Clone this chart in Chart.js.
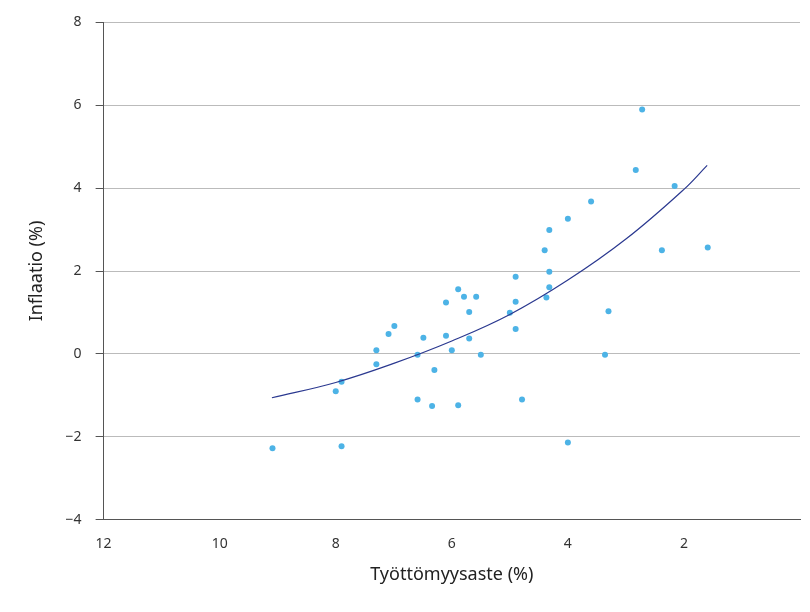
<!DOCTYPE html>
<html lang="fi">
<head>
<meta charset="UTF-8">
<title>Inflaatio ja työttömyys</title>
<style>body{margin:0;background:#fff}</style>
</head>
<body>
<canvas id="chart" width="810" height="612"></canvas>
<script src="https://cdn.jsdelivr.net/npm/chart.js"></script>
<script>
// havainnot: työttömyysaste (%) ja inflaatio (%)
const unemployment = [9.09, 8.0, 7.9, 7.9, 7.3, 7.3, 7.09, 6.99, 6.59, 6.59, 6.49, 6.34, 6.3, 6.1, 6.1, 6.0, 5.89, 5.89, 5.79, 5.7, 5.7, 5.58, 5.5, 5.0, 4.9, 4.9, 4.9, 4.79, 4.4, 4.32, 4.32, 4.32, 4.37, 4.0, 4.0, 3.6, 3.36, 3.3, 2.83, 2.72, 2.38, 2.16, 1.59];
const inflation = [-2.28, -0.9, -0.67, -2.23, 0.09, -0.25, 0.48, 0.67, -1.1, -0.02, 0.39, -1.26, -0.39, 1.24, 0.44, 0.09, 1.56, -1.24, 1.38, 1.01, 0.37, 1.38, -0.02, 0.99, 1.86, 1.26, 0.6, -1.1, 2.5, 2.99, 1.98, 1.61, 1.36, 3.26, -2.14, 3.68, -0.02, 1.03, 4.44, 5.9, 2.5, 4.05, 2.57];
// trendikäyrä luettuna kuvasta
const curveX = [9.1, 8, 7, 6, 5, 4, 3, 2, 1.6];
const curveY = [-1.06, -0.69, -0.23, 0.31, 0.95, 1.78, 2.77, 3.97, 4.55];

const font = { family: 'Noto Sans', size: 14 };
new Chart(document.getElementById('chart'), {
  data: {
    datasets: [
      {
        type: 'line',
        data: curveX.map((x, i) => ({ x: x, y: curveY[i] })),
        borderColor: '#2b3990',
        borderWidth: 1.2,
        pointRadius: 0,
        tension: 0.4,
        fill: false
      },
      {
        type: 'scatter',
        data: unemployment.map((x, i) => ({ x: x, y: inflation[i] })),
        backgroundColor: '#4db3e6',
        borderWidth: 0,
        pointRadius: 3
      }
    ]
  },
  options: {
    responsive: false,
    devicePixelRatio: 1,
    animation: false,
    layout: { padding: { top: 8, right: 10, left: 22, bottom: 22 } },
    plugins: { legend: { display: false }, tooltip: { enabled: false } },
    scales: {
      x: {
        type: 'linear', reverse: true, min: 0, max: 12,
        ticks: { stepSize: 2, color: '#333', font: font, padding: 8, callback: v => v === 0 ? '' : v },
        grid: { display: false },
        border: { color: '#555' },
        title: { display: true, text: 'Työttömyysaste (%)', color: '#222', font: { family: 'Noto Sans', size: 18 } }
      },
      y: {
        min: -4, max: 8,
        ticks: { stepSize: 2, color: '#333', font: font, padding: 14, callback: v => v < 0 ? '\u2212' + Math.abs(v) : v },
        grid: { color: '#bbb', tickLength: 8, tickColor: '#555' },
        border: { color: '#555' },
        title: { display: true, text: 'Inflaatio (%)', color: '#222', font: { family: 'Noto Sans', size: 18 } }
      }
    }
  }
});
</script>
</body>
</html>
